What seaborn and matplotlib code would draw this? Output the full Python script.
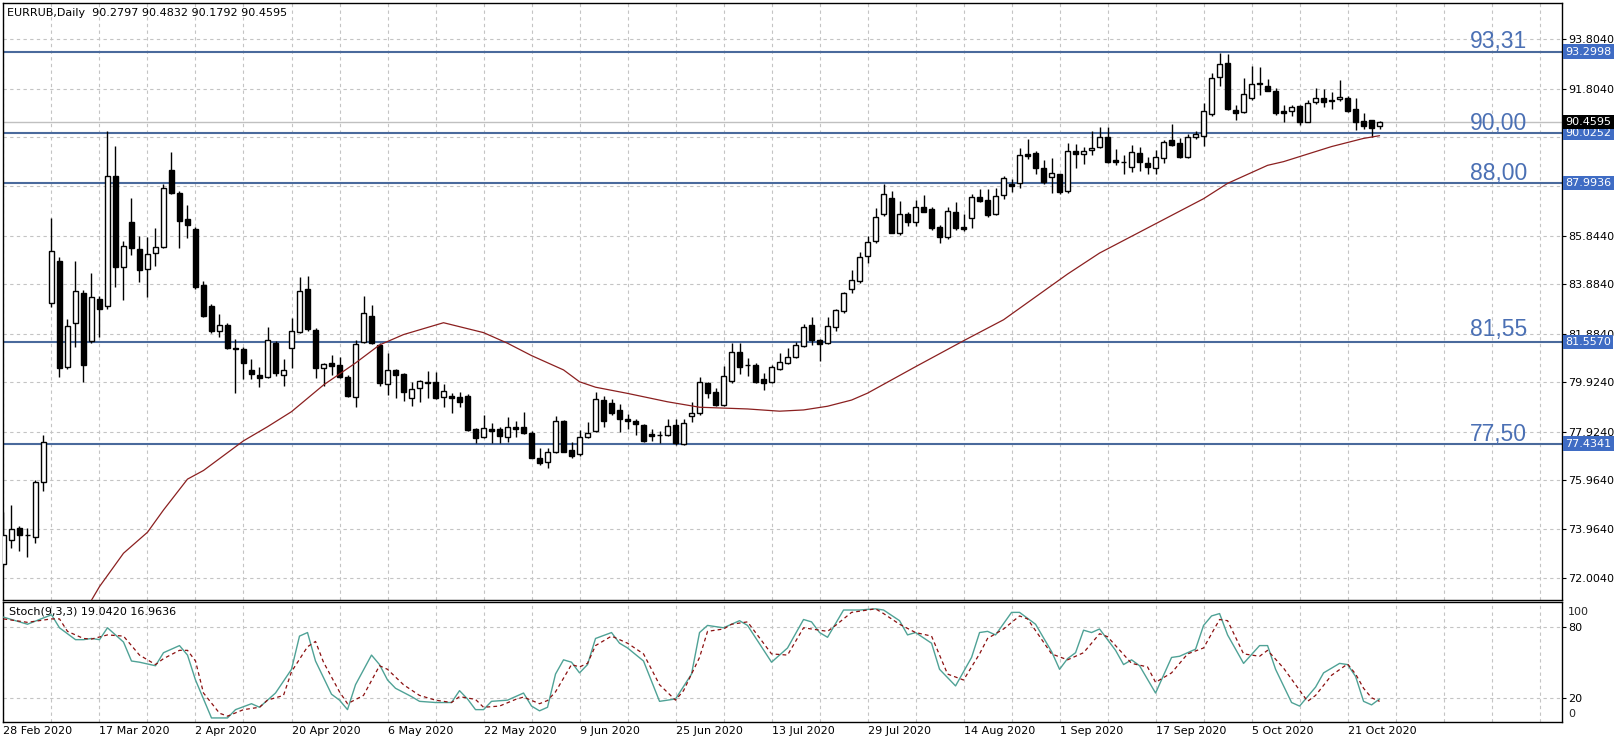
import numpy as np
import pandas as pd
import seaborn as sns
import matplotlib.pyplot as plt

sns.set_style('white')
plt.rcParams['font.family'] = ['DejaVu Sans']

# daily OHLC, one entry per bar starting 28 Feb 2020
opens = [72.55, 73.52, 74.01, 73.74, 73.67, 75.87, 83.12, 84.83, 80.53, 82.31, 83.52, 81.59, 83.28, 83.00, 88.27,
         84.57, 86.42, 85.31, 84.49, 85.14, 85.41, 88.51, 87.60, 86.53, 86.12, 83.85, 83.02, 82.01, 82.22, 81.32,
         81.27, 80.40, 80.23, 80.13, 81.52, 80.23, 81.30, 81.97, 83.71, 82.04, 80.49, 80.69, 80.62, 80.15, 79.34,
         81.57, 82.60, 81.43, 79.85, 80.40, 80.24, 79.27, 79.68, 79.90, 79.92, 79.31, 79.38, 79.31, 79.38, 78.03,
         77.72, 78.03, 78.03, 77.72, 78.12, 78.10, 77.86, 76.84, 76.68, 77.11, 78.35, 77.18, 77.00, 77.69, 77.95,
         79.20, 79.09, 78.80, 78.43, 78.37, 78.19, 77.82, 77.80, 77.79, 78.19, 77.41, 78.55, 78.69, 79.88, 79.52,
         79.00, 79.98, 81.16, 80.63, 80.62, 80.04, 79.95, 80.45, 80.71, 80.95, 81.40, 82.24, 81.63, 81.52, 82.17,
         82.82, 83.68, 84.03, 85.03, 85.64, 86.72, 87.37, 85.98, 86.73, 86.42, 87.00, 86.92, 86.19, 85.81, 86.82,
         86.19, 86.56, 87.43, 87.30, 86.72, 87.50, 87.94, 87.97, 89.16, 89.19, 88.58, 88.24, 88.34, 87.66, 89.29,
         89.16, 89.32, 89.43, 89.86, 88.92, 88.84, 88.62, 89.19, 88.78, 88.60, 88.99, 89.73, 89.59, 89.05, 89.83,
         89.90, 90.78, 92.26, 92.83, 90.94, 90.85, 91.41, 92.05, 91.93, 91.71, 90.90, 90.90, 91.10, 90.47, 91.25,
         91.41, 91.30, 91.37, 91.41, 90.97, 90.49, 90.54, 90.2797]
highs = [74.68, 74.96, 74.10, 74.01, 75.97, 77.79, 86.56, 85.00, 82.47, 84.83, 83.65, 84.33, 83.40, 90.09, 89.50,
         85.65, 87.37, 85.84, 85.81, 86.15, 87.93, 89.25, 87.65, 87.10, 86.22, 84.02, 83.10, 82.67, 82.33, 81.66,
         81.36, 80.85, 80.53, 82.14, 81.60, 80.86, 82.53, 84.17, 84.22, 82.10, 80.69, 81.03, 80.94, 80.20, 81.63,
         83.42, 83.05, 81.50, 81.12, 80.45, 80.30, 79.95, 80.01, 80.36, 80.33, 79.84, 79.48, 79.54, 79.45, 78.05,
         78.59, 78.29, 78.10, 78.50, 78.37, 78.73, 77.93, 77.25, 77.27, 78.56, 78.40, 77.52, 77.99, 78.33, 79.51,
         79.38, 79.23, 79.04, 78.62, 78.45, 78.25, 78.03, 77.95, 78.42, 78.42, 78.45, 79.14, 80.15, 79.95, 79.70,
         80.56, 81.52, 81.52, 80.90, 80.70, 80.30, 80.60, 81.09, 81.30, 81.53, 82.28, 82.55, 81.66, 82.55, 82.87,
         83.59, 84.46, 85.20, 85.84, 86.99, 87.94, 87.67, 87.26, 86.80, 87.30, 87.50, 87.00, 86.28, 87.00, 87.20,
         86.75, 87.53, 87.75, 87.75, 87.80, 88.27, 88.15, 89.42, 89.76, 89.30, 88.90, 88.98, 88.35, 89.59, 89.56,
         89.45, 90.10, 90.24, 90.24, 89.35, 89.10, 89.54, 89.44, 89.02, 89.33, 89.73, 90.37, 89.80, 89.95, 90.10,
         91.21, 92.45, 93.26, 93.21, 91.14, 92.22, 92.72, 92.67, 92.20, 91.85, 91.14, 91.14, 91.14, 91.35, 91.82,
         91.80, 91.68, 92.15, 91.50, 91.41, 90.81, 90.55, 90.4832]
lows = [72.45, 73.20, 73.09, 72.84, 73.43, 75.53, 82.95, 80.12, 80.45, 81.36, 79.95, 81.50, 81.76, 82.90, 83.79,
        83.25, 85.07, 83.99, 83.38, 84.64, 85.35, 87.55, 85.37, 85.77, 83.70, 82.55, 81.90, 81.76, 81.25, 79.48,
        80.06, 80.04, 79.74, 80.10, 80.17, 79.78, 80.50, 81.90, 82.00, 80.08, 79.78, 80.22, 80.10, 79.32, 78.93,
        81.50, 81.45, 79.75, 79.41, 79.27, 79.18, 78.96, 79.14, 79.27, 79.24, 78.93, 78.69, 78.93, 77.95, 77.48,
        77.65, 77.48, 77.48, 77.51, 77.69, 77.82, 76.85, 76.58, 76.44, 77.05, 77.08, 76.84, 76.95, 77.65, 77.90,
        78.12, 78.60, 77.90, 78.03, 77.79, 77.50, 77.54, 77.45, 77.75, 77.40, 77.38, 78.33, 78.60, 79.30, 78.95,
        78.95, 79.90, 80.27, 80.19, 79.88, 79.60, 79.90, 80.40, 80.66, 80.90, 81.35, 81.43, 80.79, 81.45, 82.01,
        82.71, 83.52, 83.95, 84.74, 85.55, 86.65, 85.95, 85.88, 86.25, 86.25, 86.80, 86.10, 85.57, 85.71, 86.10,
        86.05, 86.18, 87.20, 86.60, 86.70, 87.33, 87.62, 87.77, 88.94, 88.35, 87.95, 87.57, 87.55, 87.57, 88.60,
        88.75, 89.12, 89.40, 88.80, 88.72, 88.36, 88.44, 88.48, 88.36, 88.34, 88.80, 89.50, 89.00, 89.00, 89.75,
        89.48, 90.70, 91.93, 90.95, 90.53, 90.80, 91.35, 91.54, 91.70, 90.75, 90.47, 90.70, 90.33, 90.45, 91.20,
        91.05, 91.00, 91.30, 90.85, 90.13, 90.16, 89.86, 90.1792]
closes = [73.73, 73.98, 73.74, 73.72, 75.90, 77.49, 85.23, 80.49, 82.19, 83.62, 80.62, 83.38, 82.87, 88.27, 84.60,
          85.45, 85.34, 84.46, 85.10, 85.38, 87.77, 87.60, 86.46, 86.28, 83.79, 82.60, 82.01, 82.22, 81.30, 81.28,
          80.71, 80.27, 80.11, 81.63, 80.31, 80.40, 82.01, 83.62, 82.07, 80.51, 80.65, 80.56, 80.15, 79.37, 81.45,
          82.71, 81.50, 79.88, 80.43, 80.23, 79.52, 79.64, 79.97, 79.92, 79.30, 79.57, 79.30, 79.14, 77.99, 77.65,
          78.06, 77.95, 77.75, 78.10, 78.03, 77.86, 76.87, 76.67, 77.09, 78.35, 77.11, 76.94, 77.69, 77.86, 79.24,
          78.37, 78.69, 78.42, 78.37, 78.22, 77.56, 77.74, 77.78, 78.17, 77.45, 78.26, 78.66, 79.92, 79.50, 79.00,
          80.19, 81.13, 80.55, 80.61, 79.95, 79.88, 80.53, 80.74, 80.93, 81.43, 82.17, 81.63, 81.46, 82.20, 82.85,
          83.55, 84.06, 84.98, 85.58, 86.60, 87.53, 85.98, 86.72, 86.39, 87.00, 86.82, 86.15, 85.81, 86.84, 86.15,
          86.12, 87.43, 87.27, 86.69, 87.47, 88.17, 87.86, 89.12, 89.09, 88.58, 88.04, 88.38, 87.63, 89.29, 89.15,
          89.28, 89.39, 89.86, 88.85, 88.82, 88.82, 89.23, 88.82, 88.62, 89.02, 89.63, 89.52, 89.05, 89.83, 89.96,
          90.91, 92.22, 92.80, 90.98, 90.83, 91.58, 91.99, 91.98, 91.72, 90.83, 90.81, 91.07, 90.47, 91.21, 91.41,
          91.25, 91.35, 91.45, 90.91, 90.47, 90.29, 90.20, 90.4595]

# moving average (bar index, price)
ma_idx = [11, 12, 15, 18, 20, 23, 25, 30, 33, 36, 40, 44, 47, 50, 55, 57, 60, 63, 66, 70, 72, 74, 78, 83, 87,
          93, 97, 100, 103, 106, 108, 114, 120, 125, 133, 137, 150, 153, 158, 160, 166, 170, 172]
ma_val = [71.1, 71.65, 73.0, 73.85, 74.75, 76.0, 76.35, 77.55, 78.12, 78.73, 79.81, 80.7, 81.43, 81.85, 82.33,
          82.17, 81.93, 81.5, 81.0, 80.42, 79.94, 79.72, 79.47, 79.13, 78.91, 78.84, 78.75, 78.8, 78.95, 79.2,
          79.48, 80.55, 81.6, 82.45, 84.3, 85.15, 87.35, 87.97, 88.7, 88.85, 89.46, 89.79, 89.9]

# stochastic %K and %D (bar index, value)
k_idx = [0, 3, 6, 7, 9, 10, 11, 12, 13, 15, 16, 17, 19, 20, 22, 23, 24, 26, 28, 29, 31, 32, 34, 36, 37, 38, 39,
         41, 42, 43, 44, 46, 47, 48, 49, 51, 52, 54, 56, 57, 58, 59, 60, 61, 63, 65, 66, 67, 68, 69, 70, 71, 72,
         73, 74, 76, 77, 78, 80, 82, 84, 86, 87, 88, 90, 92, 93, 96, 98, 100, 101, 102, 103, 105, 107, 109, 110,
         112, 113, 114, 116, 117, 119, 121, 122, 123, 124, 126, 127, 129, 131, 132, 133, 134, 135, 136, 137, 139,
         140, 141, 142, 144, 146, 147, 149, 150, 151, 152, 153, 155, 157, 158, 159, 161, 162, 164, 165, 167, 168,
         169, 170, 171, 172]
k_val = [88, 82, 90, 79, 69, 69, 70, 69, 79, 67, 51, 50, 47, 58, 64, 56, 35, 3, 3, 10, 15, 12, 24, 44, 72, 75, 51,
         23, 18, 10, 31, 56, 48, 35, 28, 21, 17, 16, 16, 26, 19, 10, 10, 17, 18, 24, 13, 9, 12, 40, 52, 50, 41,
         48, 70, 75, 66, 62, 51, 17, 19, 40, 75, 81, 79, 85, 81, 50, 62, 86, 84, 75, 71, 94, 94, 95, 94,
         85, 73, 75, 66, 44, 30, 54, 75, 76, 73, 92, 92, 82, 59, 44, 53, 58, 77, 75, 78, 60,
         48, 52, 47, 24, 54, 55, 61, 81, 89, 91, 73, 49, 64, 64, 44, 16, 13, 29, 41, 49, 48,
         38, 17, 14, 19.042]
d_idx = [0, 3, 6, 7, 8, 10, 11, 13, 15, 17, 19, 20, 22, 23, 24, 25, 27, 28, 30, 32, 33, 35, 36, 38, 39, 40, 42,
         43, 45, 47, 48, 50, 52, 54, 56, 57, 59, 60, 62, 64, 65, 67, 68, 69, 71, 72, 73, 74, 76, 78, 80, 82, 84,
         85, 87, 88, 90, 91, 93, 96, 98, 100, 103, 104, 106, 109, 110, 112, 114, 116, 118, 120, 122, 123, 125,
         127, 128, 131, 133, 135, 137, 138, 141, 143, 144, 146, 148, 150, 152, 153, 155, 157, 158, 160, 163, 164,
         166, 168, 169, 170, 171, 172]
d_val = [86.5, 83.6, 86.5, 86.5, 76, 70, 69.5, 73, 72, 56, 48, 53, 60, 60, 51, 24, 7, 4.5, 10, 12, 18, 22, 42, 63,
         67.5, 50, 25, 15, 22, 47, 44, 31, 22, 18, 16, 21, 18.6, 12, 13, 18.6, 20.6, 15, 17.7, 25, 48, 46, 49, 64,
         72, 66, 57, 31, 18, 26, 54, 76, 78, 82, 84, 57, 56, 79, 76, 81, 92, 95, 91, 82, 75, 72, 40, 35, 57, 70,
         78, 89, 86.5, 57, 52, 58, 74, 71.5, 49, 46, 33, 41, 57, 62, 86, 85, 57, 55, 60, 45, 17, 22, 39, 48.5, 40,
         28, 20, 16.9636]

# horizontal levels
levels = [93.2998, 90.0252, 87.9936, 81.5570, 77.4341]
level_text = ['93,31', '90,00', '88,00', '81,55', '77,50']
last_price = 90.4595

# right axis labels (the ones behind the level boxes are left blank)
price_ticks = [72.0040, 73.9640, 75.9640, 77.9240, 79.9240, 81.8840, 83.8840, 85.8440, 87.8440, 89.8440,
               91.8040, 93.8040]
price_labels = ['72.0040', '73.9640', '75.9640', '77.9240', '79.9240', '81.8840', '83.8840', '85.8440', '',
                '', '91.8040', '93.8040']
date_labels = ['28 Feb 2020', '17 Mar 2020', '2 Apr 2020', '20 Apr 2020', '6 May 2020', '22 May 2020',
               '9 Jun 2020', '25 Jun 2020', '13 Jul 2020', '29 Jul 2020', '14 Aug 2020', '1 Sep 2020',
               '17 Sep 2020', '5 Oct 2020', '21 Oct 2020']

W, H = 1623, 739
fig = plt.figure(figsize=(W / 100, H / 100), dpi=100)
fig.patch.set_facecolor('white')
left, right = 3, 1562
ax = fig.add_axes([left / W, 1 - 600 / H, (right - left) / W, (600 - 3) / H])
ax2 = fig.add_axes([left / W, 1 - 721.5 / H, (right - left) / W, (721.5 - 602.3) / H])

grid_kw = dict(color='#c4c4c4', linestyle=(0, (3, 3)), linewidth=0.8)
xmax = 194.8

# ---- price panel
o = np.array(opens); h = np.array(highs); l = np.array(lows); c = np.array(closes)
idx = np.arange(len(o))
up = c >= o
lo = np.minimum(o, c)
hgt = np.maximum(np.abs(c - o), 0.015)
ax.vlines(idx, l, h, color='black', linewidth=1, zorder=3)
ax.bar(idx[up], hgt[up], bottom=lo[up], width=0.6, facecolor='white', edgecolor='black', linewidth=1, zorder=4)
ax.bar(idx[~up], hgt[~up], bottom=lo[~up], width=0.6, facecolor='black', edgecolor='black', linewidth=1,
       zorder=4)

ma = pd.DataFrame({'bar': ma_idx, 'ma': ma_val})
sns.lineplot(data=ma, x='bar', y='ma', ax=ax, color='#8b2020', linewidth=0.9, zorder=5, estimator=None)

for lev in levels:
    ax.axhline(lev, color='#4a6a9c', linewidth=1.5, zorder=2)
ax.axhline(last_price, color='#c0c0c0', linewidth=1, zorder=1.5)

offs = [3.4, 2.3, 2.3, 6.0, 3.0]
for lev, txt, off in zip(levels, level_text, offs):
    ax.annotate(txt, xy=(0.9776, lev), xycoords=('axes fraction', 'data'), xytext=(0, off * 0.72),
                textcoords='offset points', ha='right', va='baseline', fontsize=16.5,
                family=['Liberation Sans', 'DejaVu Sans'], color='#4b70b4', zorder=6)

ax.set_xlim(-0.06, xmax)
ax.set_ylim(71.108, 95.27)
ax.set_xticks([])
ax.set_xticks(np.arange(0, 195, 6), minor=True)
ax.tick_params(axis='x', which='both', length=0)
ax.yaxis.tick_right()
ax.set_yticks(price_ticks)
ax.set_yticklabels(price_labels)
ax.tick_params(axis='y', length=3, width=0.8, pad=1.5, labelsize=8, colors='black')
ax.grid(True, axis='x', which='minor', **grid_kw)
ax.grid(True, axis='y', which='major', **grid_kw)
ax.set_xlabel(''); ax.set_ylabel('')

for lev in levels:
    ax.annotate(f'{lev:.4f}', xy=(1, lev), xycoords=('axes fraction', 'data'), xytext=(2.4, 0),
                textcoords='offset points', ha='left', va='center', fontsize=8, color='white', zorder=10,
                annotation_clip=False,
                bbox=dict(boxstyle='square,pad=0.2', fc='#3f6cc4', ec='none'))
ax.annotate(f'{last_price:.4f}', xy=(1, last_price), xycoords=('axes fraction', 'data'), xytext=(2.4, 0),
            textcoords='offset points', ha='left', va='center', fontsize=8, color='white', zorder=10,
            annotation_clip=False, bbox=dict(boxstyle='square,pad=0.2', fc='black', ec='none'))

ax.annotate('EURRUB,Daily  90.2797 90.4832 90.1792 90.4595', xy=(0, 1), xycoords='axes fraction',
            xytext=(3, -3.5), textcoords='offset points', ha='left', va='top', fontsize=8, color='black')

# ---- stochastic panel
kd = pd.DataFrame({'bar': k_idx, 'k': k_val})
dd = pd.DataFrame({'bar': d_idx, 'd': d_val})
sns.lineplot(data=kd, x='bar', y='k', ax=ax2, color='#4fa296', linewidth=1, estimator=None, zorder=4)
sns.lineplot(data=dd, x='bar', y='d', ax=ax2, color='#8b1010', linewidth=0.9, linestyle=(0, (3, 2.5)),
             estimator=None, zorder=5)
ax2.set_xlim(-0.06, xmax)
ax2.set_ylim(0, 100.5)
ax2.set_xticks(np.arange(0, 169, 12))
ax2.set_xticklabels(date_labels, ha='left')
ax2.set_xticks(np.arange(0, 195, 6), minor=True)
ax2.tick_params(axis='x', which='major', length=2.5, width=0.8, pad=0.8, labelsize=8, colors='black')
ax2.tick_params(axis='x', which='minor', length=0)
ax2.yaxis.tick_right()
ax2.set_yticks([20, 80])
ax2.set_yticklabels(['20', '80'])
ax2.tick_params(axis='y', length=3, width=0.8, pad=1.5, labelsize=8, colors='black')
ax2.grid(True, axis='x', which='both', **grid_kw)
ax2.grid(True, axis='y', which='major', **grid_kw)
ax2.set_xlabel(''); ax2.set_ylabel('')
for val, txt in [(92.5, '100'), (6.2, '0')]:
    ax2.annotate(txt, xy=(1, val), xycoords=('axes fraction', 'data'), xytext=(4.3, 0),
                 textcoords='offset points', ha='left', va='center', fontsize=8, annotation_clip=False)
ax2.annotate('Stoch(9,3,3) 19.0420 16.9636', xy=(0, 1), xycoords='axes fraction', xytext=(4, -3),
             textcoords='offset points', ha='left', va='top', fontsize=8, color='black')

for a in (ax, ax2):
    for s in a.spines.values():
        s.set_color('black')
        s.set_linewidth(1)

fig.savefig('out.png', dpi=100)
